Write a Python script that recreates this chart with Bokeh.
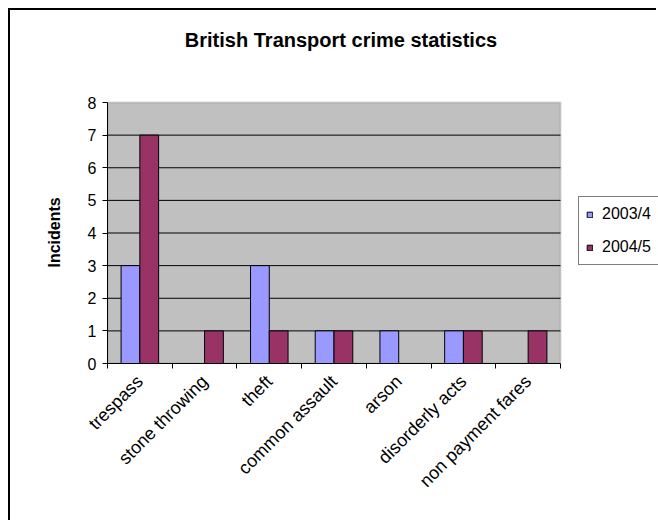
import math
from bokeh.plotting import figure
from bokeh.models import (ColumnDataSource, Range1d, FixedTicker, Legend, LegendItem,
                          BoxAnnotation, Label, Title)
from bokeh.transform import dodge
from bokeh.embed import file_html
from bokeh.resources import INLINE

# ---- data ----
categories = ["trespass", "stone throwing", "theft", "common assault",
              "arson", "disorderly acts", "non payment fares"]
series_names = ["2003/4", "2004/5"]
values_2003_4 = [3, 0, 3, 1, 1, 1, 0]
values_2004_5 = [7, 1, 1, 1, 0, 1, 1]
y_ticks = [0, 1, 2, 3, 4, 5, 6, 7, 8]
title_text = "British Transport crime statistics"
y_label = "Incidents"

FONT = "Liberation Sans"
n = len(categories)
slot = [i + 0.5 for i in range(n)]  # category slot centres
y_min, y_max = y_ticks[0], y_ticks[-1]

# ---- layout (pixels) ----
W, H = 648, 512
LEFT = 97            # space for y axis
AREA_W = 453         # grey plot area width
AREA_TOP = 92        # grey plot area top (canvas px)
AREA_H = 261         # grey plot area height
BOTTOM = H - AREA_TOP - AREA_H
frame_w = W - LEFT
frame_h = H - BOTTOM
x_end = n * frame_w / AREA_W
y_end = y_min + (y_max - y_min) * frame_h / AREA_H

source = ColumnDataSource(dict(cat=categories, slot=slot, a=values_2003_4, b=values_2004_5))
grid_vals = [t for t in y_ticks if y_min < t < y_max]
grid_src = ColumnDataSource(dict(y=grid_vals, x0=[0] * len(grid_vals), x1=[n] * len(grid_vals)))

p = figure(x_range=Range1d(0, x_end), y_range=Range1d(y_min, y_end),
           width=W, height=H, output_backend="svg", toolbar_location=None,
           min_border_left=LEFT, min_border_right=0, min_border_top=0,
           min_border_bottom=BOTTOM)

p.background_fill_color = "white"
p.border_fill_color = "white"
p.outline_line_color = None
p.styles = {"border-left": "2px solid black", "border-top": "2px solid black",
            "margin-left": "8px", "margin-top": "8px"}
p.xgrid.grid_line_color = None
p.ygrid.grid_line_color = None

# grey plot area
area = BoxAnnotation(left=0, right=n, bottom=y_min, top=y_max, fill_color="#C0C0C0",
                     fill_alpha=1, line_color="#808080", line_width=2, level="image")
p.add_layout(area)

# horizontal gridlines
p.segment(x0="x0", x1="x1", y0="y", y1="y", source=grid_src, line_color="black", line_width=1)

r1 = p.vbar(x=dodge("slot", -0.145), top="a", width=0.29,
            source=source, fill_color="#9999FF", line_color="black", line_width=1)
r2 = p.vbar(x=dodge("slot", 0.145), top="b", width=0.29,
            source=source, fill_color="#993366", line_color="black", line_width=1)

# x axis: labels at category centres, tick marks at category boundaries
xaxis = p.xaxis[0]
xaxis.bounds = (0, n)
xaxis.ticker = FixedTicker(ticks=slot, minor_ticks=list(range(n + 1)))
xaxis.major_label_overrides = {s: c for s, c in zip(slot, categories)}
xaxis.major_tick_line_color = None
xaxis.minor_tick_line_color = "black"
xaxis.minor_tick_out = 5
xaxis.minor_tick_in = 0
xaxis.axis_line_color = "black"
xaxis.major_label_orientation = math.pi / 4
xaxis.major_label_standoff = 9
xaxis.major_label_text_font = FONT
xaxis.major_label_text_font_size = "18px"
xaxis.major_label_text_color = "black"

# y axis
yaxis = p.yaxis[0]
yaxis.bounds = (y_min, y_max)
yaxis.ticker = FixedTicker(ticks=y_ticks)
yaxis.major_tick_out = 5
yaxis.major_tick_in = 0
yaxis.minor_tick_line_color = None
yaxis.axis_line_color = "black"
yaxis.major_label_standoff = 6
yaxis.major_label_text_font = FONT
yaxis.major_label_text_font_size = "16px"
yaxis.major_label_text_color = "black"

# y axis title, centred on the plot area
ylab = Title(text=y_label, align="left", offset=96, standoff=44,
             text_font=FONT, text_font_size="16px", text_font_style="bold",
             text_color="black")
p.add_layout(ylab, "left")

# chart title
title = Label(x=n / 2, y=y_max, x_offset=7, y_offset=63, text=title_text,
              text_font=FONT, text_font_size="20px", text_font_style="bold",
              text_color="black", text_align="center", text_baseline="alphabetic")
p.add_layout(title)

# legend
legend = Legend(items=[LegendItem(label=series_names[0], renderers=[r1]),
                       LegendItem(label=series_names[1], renderers=[r2])],
                location=(AREA_W + 18, 98))
legend.border_line_color = "black"
legend.border_line_width = 1
legend.background_fill_color = "white"
legend.background_fill_alpha = 1
legend.label_text_font = FONT
legend.label_text_font_size = "16px"
legend.label_text_color = "black"
legend.glyph_width = 7
legend.glyph_height = 7
legend.label_standoff = 9
legend.label_width = 70
legend.label_height = 20
legend.spacing = 13
legend.padding = 7
legend.margin = 0
p.add_layout(legend)

open("out.html", "w").write(file_html(p, INLINE))
